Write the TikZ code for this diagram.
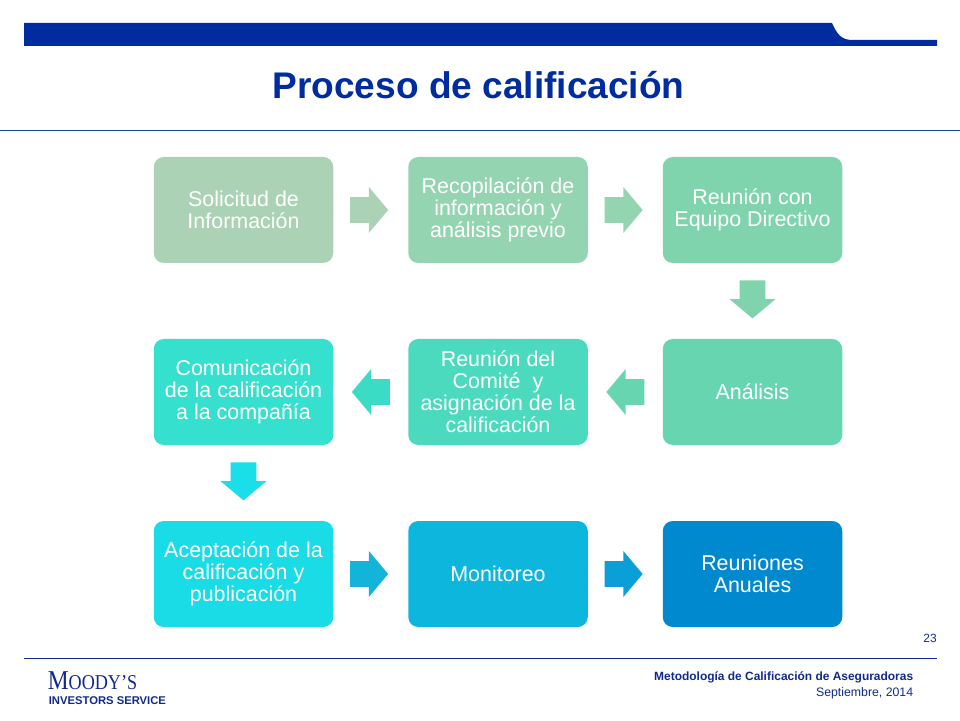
\documentclass[tikz,border=0pt]{standalone}
\usepackage{xcolor}
\usepackage{fontspec}
\setmainfont{Liberation Sans}
\newfontfamily\logofont[FakeStretch=0.86]{Liberation Serif}
\usetikzlibrary{calc,shapes.arrows}

\definecolor{barblue}{HTML}{002CA0}
\definecolor{ruleblue}{HTML}{1A5080}
\definecolor{footblue}{HTML}{0F2A8C}
\definecolor{boxa}{HTML}{ABD2B5}
\definecolor{boxb}{HTML}{94D4B1}
\definecolor{boxc}{HTML}{7FD4AE}
\definecolor{boxd}{HTML}{67D6B0}
\definecolor{boxe}{HTML}{4CDABF}
\definecolor{boxf}{HTML}{36E0CF}
\definecolor{boxg}{HTML}{19DCE6}
\definecolor{boxh}{HTML}{0DB6DC}
\definecolor{boxi}{HTML}{0089CF}
\definecolor{arrowteal}{HTML}{3ADCC6}
\definecolor{arrowcyan}{HTML}{1ADFE8}
\definecolor{arrowsky}{HTML}{12B4DA}
\definecolor{arrowblue}{HTML}{0A9FD6}

\tikzset{
  stepbox/.style={rounded corners=0.2cm, minimum width=3.59cm, minimum height=2.12cm,
    inner sep=0pt, align=center, text=white,
    font=\fontsize{12.2}{12.5}\selectfont},
  blockarrow/.style={single arrow, inner xsep=0pt, inner ysep=0.25cm, minimum height=0.76cm, minimum width=0.9cm,
    single arrow head extend=0.2cm, single arrow tip angle=100, anchor=center},
  foottext/.style={inner sep=0pt, text=footblue, anchor=base east}
}

\begin{document}
\begin{tikzpicture}
\useasboundingbox (0,0) rectangle (19.2,14.4);

% header
\fill [barblue] (0.48,13.94) -- (16.64,13.94) .. controls (16.74,13.72) and (16.82,13.6) .. (17.05,13.6)
  -- (18.74,13.6) -- (18.74,13.48) -- (0.48,13.48) -- cycle;
\node (title) at (9.57,12.7) [inner sep=0pt, text=barblue, font=\fontsize{21.1}{24}\selectfont\bfseries] {Proceso de calificación};
\draw [ruleblue, line width=0.4pt] (0,11.8) -- (19.2,11.8);

% steps
\node (solicitud) at (4.87,10.2) [stepbox, fill=boxa] {Solicitud de\\Información};
\node (recopilacion) at (9.96,10.2) [stepbox, fill=boxb] {Recopilación de\\información y\\análisis previo};
\node (reunion) at (15.05,10.2) [stepbox, fill=boxc] {Reunión con\\Equipo Directivo};
\node (analisis) at (15.05,6.56) [stepbox, fill=boxd] {Análisis};
\node (comite) at (9.96,6.56) [stepbox, fill=boxe] {Reunión del\\Comité\ \ y\\asignación de la\\calificación};
\node (comunicacion) at (4.87,6.56) [stepbox, fill=boxf] {Comunicación\\de la calificación\\a la compañía};
\node (aceptacion) at (4.87,2.92) [stepbox, fill=boxg] {Aceptación de la\\calificación y\\publicación};
\node (monitoreo) at (9.96,2.92) [stepbox, fill=boxh] {Monitoreo};
\node (anuales) at (15.05,2.92) [stepbox, fill=boxi] {Reuniones\\Anuales};

% block arrows
\node (arrowa) at ($(solicitud)!0.5!(recopilacion)$) [blockarrow, fill=boxa, xshift=-0.14cm] {};
\node (arrowb) at ($(recopilacion)!0.5!(reunion)$) [blockarrow, fill=boxb, xshift=-0.14cm] {};
\node (arrowc) at ($(reunion)!0.5!(analisis)$) [blockarrow, fill=boxc, rotate=-90, xshift=-0.14cm] {};
\node (arrowd) at ($(analisis)!0.5!(comite)$) [blockarrow, fill=boxd, rotate=180, xshift=-0.11cm] {};
\node (arrowe) at ($(comite)!0.5!(comunicacion)$) [blockarrow, fill=arrowteal, rotate=180, xshift=-0.11cm] {};
\node (arrowf) at ($(comunicacion)!0.5!(aceptacion)$) [blockarrow, fill=arrowcyan, rotate=-90, xshift=-0.14cm] {};
\node (arrowg) at ($(aceptacion)!0.5!(monitoreo)$) [blockarrow, fill=arrowsky, xshift=-0.14cm] {};
\node (arrowh) at ($(monitoreo)!0.5!(anuales)$) [blockarrow, fill=arrowblue, xshift=-0.14cm] {};

% footer
\node (page) at (18.74,1.56) [foottext, font=\fontsize{6.8}{8}\selectfont] {23};
\draw [footblue, line width=0.4pt] (0.48,1.24) -- (18.74,1.24);
\node (method) at (18.27,0.8) [foottext, font=\fontsize{6.8}{8}\selectfont\bfseries] {Metodología de Calificación de Aseguradoras};
\node (date) at (18.27,0.47) [foottext, font=\fontsize{7}{8}\selectfont] {Septiembre, 2014};
\node (moodys) at (0.95,0.62) [inner sep=0pt, anchor=base west, text=footblue, font=\logofont] {\fontsize{15.5}{16}\selectfont M\fontsize{12}{16}\selectfont OODY’S};
\node (service) at (0.97,0.32) [inner sep=0pt, anchor=base west, text=footblue, font=\fontsize{6.4}{8}\selectfont\bfseries] {INVESTORS SERVICE};
\end{tikzpicture}
\end{document}
